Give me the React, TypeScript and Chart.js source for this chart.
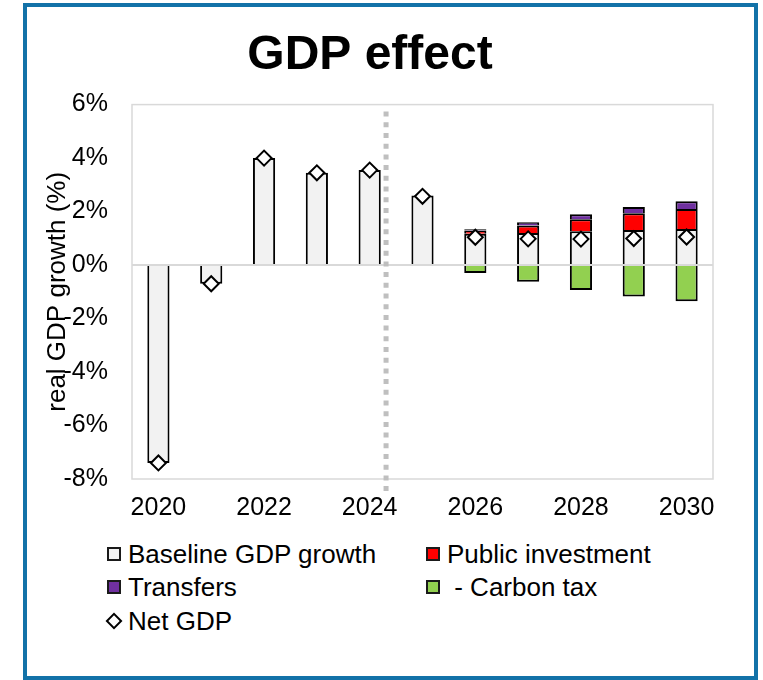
import React, { useEffect, useRef } from 'react';
import { Chart, registerables } from 'chart.js';

Chart.register(...registerables);

// Years on the category axis and the ones that carry a printed label
const years = ['2020', '2021', '2022', '2023', '2024', '2025', '2026', '2027', '2028', '2029', '2030'];
const labelledYears = ['2020', '2022', '2024', '2026', '2028', '2030'];

// Real GDP growth components (percentage points)
const baselineGrowth = [-7.4, -0.7, 4.0, 3.45, 3.55, 2.6, 1.17, 1.2, 1.26, 1.31, 1.35];
const publicInvestment = [null, null, null, null, null, null, 0.12, 0.28, 0.45, 0.63, 0.75];
const transfers = [null, null, null, null, null, null, 0.05, 0.12, 0.19, 0.23, 0.29];
const carbonTax = [null, null, null, null, null, -0.03, -0.3, -0.62, -0.93, -1.18, -1.35];
const netGdp = [-7.4, -0.7, 4.0, 3.45, 3.55, 2.57, 1.04, 0.98, 0.97, 0.99, 1.05];

// Value axis range
const yMin = -8;
const yMax = 6;
const yStep = 2;

// Projection period starts just after this year
const lastHistoricalYear = '2024';

const FONT = "'Liberation Sans', Arial, Helvetica, sans-serif";

const COLORS = {
  baseline: '#f2f2f2',
  investment: '#ff0000',
  transfers: '#7030a0',
  carbon: '#92d050',
  frame: '#d9d9d9',
  divider: '#bfbfbf',
  border: '#1272a8',
};

type LegendItem = { label: string; color: string; marker: 'box' | 'diamond' };

const legendItems: LegendItem[] = [
  { label: 'Baseline GDP growth', color: COLORS.baseline, marker: 'box' },
  { label: 'Public investment', color: COLORS.investment, marker: 'box' },
  { label: 'Transfers', color: COLORS.transfers, marker: 'box' },
  { label: '\u00a0- Carbon tax', color: COLORS.carbon, marker: 'box' },
  { label: 'Net GDP', color: '#ffffff', marker: 'diamond' },
];

// Plot frame, zero line and the dotted projection divider
const decorations = {
  id: 'decorations',
  beforeDatasetsDraw(chart: any) {
    const { ctx, chartArea } = chart;
    ctx.save();
    ctx.strokeStyle = COLORS.frame;
    ctx.lineWidth = 1.5;
    ctx.strokeRect(chartArea.left, chartArea.top, chartArea.right - chartArea.left, chartArea.bottom - chartArea.top);
    ctx.restore();
  },
  afterDatasetsDraw(chart: any) {
    const { ctx, chartArea, scales } = chart;
    const x = scales.x;
    const y = scales.y;
    ctx.save();
    // zero line over the bars
    const y0 = y.getPixelForValue(0);
    ctx.strokeStyle = COLORS.frame;
    ctx.lineWidth = 2;
    ctx.beginPath();
    ctx.moveTo(chartArea.left, y0);
    ctx.lineTo(chartArea.right, y0);
    ctx.stroke();
    // projection divider
    const idx = years.indexOf(lastHistoricalYear);
    const step = x.getPixelForValue(idx + 1) - x.getPixelForValue(idx);
    const dx = x.getPixelForValue(idx) + step * 0.31;
    ctx.strokeStyle = COLORS.divider;
    ctx.lineWidth = 5;
    ctx.setLineDash([5, 5.7]);
    ctx.beginPath();
    ctx.moveTo(dx, chartArea.top + 7);
    ctx.lineTo(dx, chartArea.bottom + 12);
    ctx.stroke();
    ctx.restore();
  },
};

function LegendMarker({ item }: { item: LegendItem }) {
  if (item.marker === 'diamond') {
    return (
      <div style={{ width: 14, height: 14, display: 'flex', alignItems: 'center', justifyContent: 'center' }}>
        <div
          style={{
            width: 8,
            height: 8,
            border: '2px solid #000',
            background: '#fff',
            transform: 'rotate(45deg)',
          }}
        />
      </div>
    );
  }
  return (
    <div
      style={{
        width: 14,
        height: 14,
        boxSizing: 'border-box',
        border: '2px solid #1a1a1a',
        background: item.color,
      }}
    />
  );
}

export default function App() {
  const canvasRef = useRef<HTMLCanvasElement | null>(null);

  useEffect(() => {
    const canvas = canvasRef.current;
    if (!canvas) return;
    const barCommon = {
      borderColor: '#000',
      borderWidth: 2,
      barPercentage: 0.42,
      categoryPercentage: 1,
      order: 1,
      stack: 'gdp',
    };
    const chart = new Chart(canvas, {
      type: 'bar',
      data: {
        labels: years,
        datasets: [
          {
            type: 'line',
            label: 'Net GDP',
            data: netGdp,
            showLine: false,
            pointStyle: 'rectRot',
            pointRadius: 7.5,
            pointBackgroundColor: '#ffffff',
            pointBorderColor: '#000000',
            pointBorderWidth: 2,
            order: 0,
            stack: 'net',
          } as any,
          { ...barCommon, label: 'Baseline GDP growth', data: baselineGrowth, backgroundColor: COLORS.baseline },
          { ...barCommon, label: 'Public investment', data: publicInvestment, backgroundColor: COLORS.investment },
          { ...barCommon, label: 'Transfers', data: transfers, backgroundColor: COLORS.transfers },
          { ...barCommon, label: ' - Carbon tax', data: carbonTax, backgroundColor: COLORS.carbon },
        ],
      },
      options: {
        responsive: false,
        animation: false,
        layout: { padding: { left: 27, right: 50, top: 0, bottom: 0 } },
        plugins: {
          legend: { display: false },
          tooltip: { enabled: false },
          title: {
            display: true,
            text: 'GDP effect',
            color: '#000',
            font: { family: FONT, size: 48, weight: 'bold' },
            padding: { top: 27, bottom: 20 },
          },
        },
        scales: {
          x: {
            stacked: true,
            grid: { display: false, drawTicks: false },
            border: { display: false },
            ticks: {
              autoSkip: false,
              maxRotation: 0,
              padding: 14,
              color: '#000',
              font: { family: FONT, size: 25 },
              callback: (_v: any, i: number) => (labelledYears.includes(years[i]) ? years[i] : ''),
            },
          },
          y: {
            stacked: true,
            min: yMin,
            max: yMax,
            afterFit: (s: any) => {
              s.width = 105;
            },
            grid: { display: false, drawTicks: false },
            border: { display: false },
            ticks: {
              stepSize: yStep,
              padding: 24,
              color: '#000',
              font: { family: FONT, size: 25 },
              callback: (v: any) => `${v}%`,
            },
            title: {
              display: true,
              text: 'real GDP growth (%)',
              color: '#000',
              font: { family: FONT, size: 26 },
              padding: { top: 15, bottom: 0 },
            },
          },
        },
      } as any,
      plugins: [decorations],
    });
    return () => chart.destroy();
  }, []);

  const colLeft = [107, 426];
  const rowCenter = [554, 587, 621];

  return (
    <div style={{ position: 'absolute', left: 0, top: 0, width: 763, height: 680, background: '#fff', overflow: 'hidden' }}>
      <div
        style={{
          position: 'absolute',
          left: 23,
          top: 3,
          width: 735,
          height: 677,
          boxSizing: 'border-box',
          border: `4px solid ${COLORS.border}`,
        }}
      />
      <canvas
        ref={canvasRef}
        width={763}
        height={537}
        style={{ position: 'absolute', left: 0, top: 0, width: 763, height: 537 }}
      />
      {legendItems.map((item, i) => (
        <div
          key={item.label}
          style={{
            position: 'absolute',
            left: colLeft[i % 2],
            top: rowCenter[Math.floor(i / 2)] - 17,
            height: 34,
            display: 'flex',
            alignItems: 'center',
            gap: 7,
            fontFamily: FONT,
            fontSize: 26,
            color: '#000',
            whiteSpace: 'pre',
          }}
        >
          <LegendMarker item={item} />
          <span>{item.label}</span>
        </div>
      ))}
    </div>
  );
}
